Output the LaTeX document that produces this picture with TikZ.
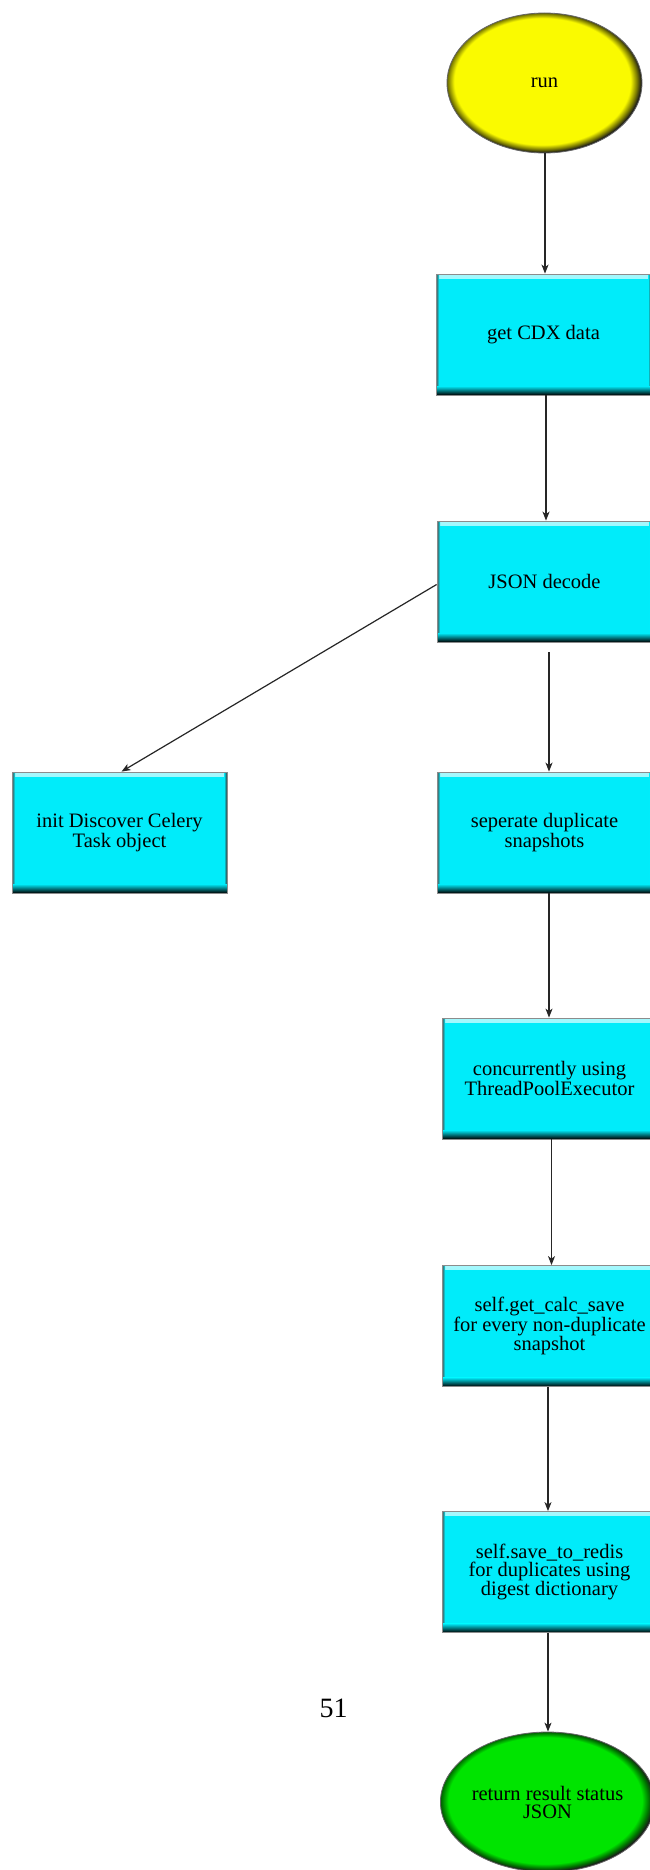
\documentclass[tikz,border=0pt]{standalone}
\usepackage{fontspec}
\setmainfont{Liberation Serif}
\usetikzlibrary{shapes.geometric,arrows.meta}

\definecolor{boxcyan}{RGB}{0,236,250}
\definecolor{runyellow}{RGB}{250,250,0}
\definecolor{endgreen}{RGB}{0,228,0}

% bevelled discs for the start and end terminals
\pgfdeclareradialshading{yellowdisk}{\pgfpoint{-1bp}{1bp}}{color(0bp)=(runyellow); color(22.6bp)=(runyellow); color(24.2bp)=(runyellow!50!black); color(25.3bp)=(black!90); color(50bp)=(black!90)}
\pgfdeclareradialshading{greendisk}{\pgfpoint{-1bp}{1bp}}{color(0bp)=(endgreen); color(22.6bp)=(endgreen); color(24.2bp)=(endgreen!50!black); color(25.3bp)=(black!90); color(50bp)=(black!90)}

\newcommand\nodefont{\fontsize{20.5}{18}\selectfont}

\tikzset{
  boxnode/.style={rectangle, minimum width=215pt, minimum height=121pt,
    inner sep=0pt, fill=boxcyan, draw=black!45, line width=0.8pt,
    align=center, font=\nodefont,
    path picture={
      \shade[top color=boxcyan!35!white, bottom color=boxcyan]
        (path picture bounding box.north west) rectangle ([yshift=-4pt]path picture bounding box.north east);
      \shade[left color=boxcyan, right color=black!80]
        ([xshift=-3pt]path picture bounding box.north east) rectangle (path picture bounding box.south east);
      \shade[left color=black!70, right color=boxcyan]
        (path picture bounding box.north west) rectangle ([xshift=3pt]path picture bounding box.south west);
      \shade[top color=boxcyan, middle color=boxcyan!35!black, bottom color=black]
        ([yshift=9pt]path picture bounding box.south west) rectangle (path picture bounding box.south east);
    }},
  disc/.style={ellipse, minimum width=195pt, minimum height=140pt, inner sep=0pt,
    draw=black!60, line width=0.8pt, align=center, font=\nodefont},
  arr/.style={-{Stealth[length=9pt,width=7pt,inset=2.5pt]}, line width=1.2pt, draw=black!85},
  pagenum/.style={anchor=base, inner sep=0pt, font=\fontsize{28}{30}\selectfont}
}

\begin{document}
\begin{tikzpicture}[x=1pt,y=-1pt]
\useasboundingbox (0,0) rectangle (649,1870);
\fill[white] (0,0) rectangle (649,1870);

% nodes
\node[disc, shading=yellowdisk] (run) at (544.5,83) {run};
\node[boxnode] (cdx)  at (543.5,334.5)  {get CDX data};
\node[boxnode] (json) at (544.5,581.5)  {JSON decode};
\node[boxnode] (init) at (119.5,832.5)  {init Discover Celery\\Task object};
\node[boxnode] (sep)  at (544.5,832.5)  {seperate duplicate\\snapshots};
\node[boxnode] (conc) at (549.5,1078.5) {concurrently using\\ThreadPoolExecutor};
\node[boxnode] (calc) at (549.5,1326)   {self.get\_calc\_save\\for every non-duplicate\\snapshot};
\node[boxnode] (redis) at (549.5,1572)  {self.save\_to\_redis\\for duplicates using\\digest dictionary};
\node[disc, shading=greendisk] (ret) at (547.5,1802) {return result status\\JSON};

\node[pagenum] (pnum) at (333.5,1717) {51};

% connectors
\draw[arr] ([xshift=0.5pt]run.south) -- ([xshift=0.5pt]run.south |- cdx.north);
\draw[arr] ([xshift=2.5pt]cdx.south) -- ([xshift=2.5pt]cdx.south |- json.north);
\draw[arr] ([xshift=4.5pt,yshift=-10pt]json.south) -- ([xshift=4.5pt]json.south |- sep.north);
\draw[arr] ([yshift=-3pt]json.west) -- ([xshift=2pt]init.north);
\draw[arr] ([xshift=4.5pt]sep.south) -- ([xshift=4.5pt]sep.south |- conc.north);
\draw[arr] ([xshift=2pt]conc.south) -- ([xshift=2pt]conc.south |- calc.north);
\draw[arr] ([xshift=-1.5pt]calc.south) -- ([xshift=-1.5pt]calc.south |- redis.north);
\draw[arr] ([xshift=-1.5pt]redis.south) -- ([xshift=-1.5pt]redis.south |- ret.north);
\end{tikzpicture}
\end{document}
